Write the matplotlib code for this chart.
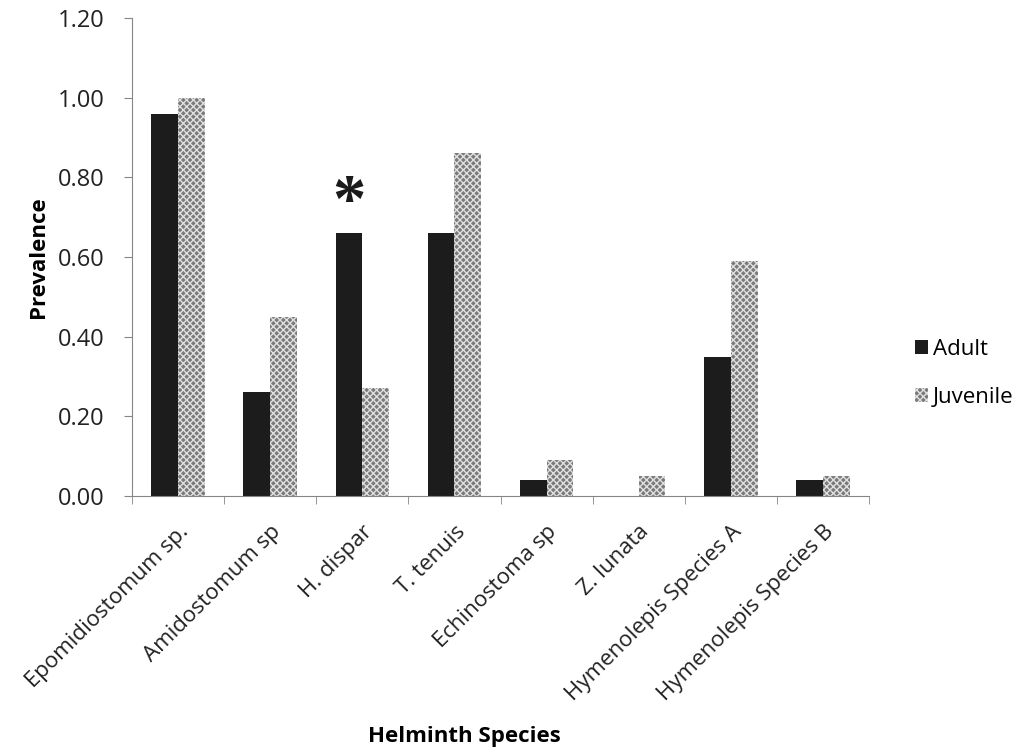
import numpy as np
import matplotlib
matplotlib.use('Agg')
import matplotlib.pyplot as plt
from matplotlib.transforms import ScaledTranslation

species = ['Epomidiostomum sp.', 'Amidostomum sp', 'H. dispar', 'T. tenuis',
           'Echinostoma sp', 'Z. lunata', 'Hymenolepis Species A', 'Hymenolepis Species B']
adult = [0.96, 0.26, 0.66, 0.66, 0.04, 0.00, 0.35, 0.04]
juvenile = [1.00, 0.45, 0.27, 0.86, 0.09, 0.05, 0.59, 0.05]
yticks = [0.0, 0.2, 0.4, 0.6, 0.8, 1.0, 1.2]

plt.rcParams['font.family'] = ['Open Sans', 'DejaVu Sans']
plt.rcParams['hatch.linewidth'] = 1.0

fig = plt.figure(figsize=(10.25, 7.54), dpi=100)
ax = fig.add_axes([0.1288, 0.3422, 0.719, 0.634])

x = np.arange(len(species))
w = 0.29
ax.bar(x - w / 2, adult, w, color='#1c1c1c', linewidth=0, label='Adult')
ax.bar(x + w / 2, juvenile, w, facecolor='#7a7a7a', edgecolor='#e0e0e0',
       hatch='xxxxx', linewidth=0, label='Juvenile')

# significance marker above H. dispar adults
ax.text(x[2] - w / 2, 0.735, '*', fontsize=48, fontweight='bold', ha='center', va='center',
        family='Liberation Serif', color='#1a1a1a')

ax.set_xlim(-0.5, len(species) - 0.5)
ax.set_ylim(0, 1.2)
ax.set_yticks(yticks)
ax.set_yticklabels([f'{v:.2f}' for v in yticks], fontsize=17, color='#222222')
ax.set_xticks(x)
ax.set_xticklabels(species, rotation=45, ha='right', rotation_mode='anchor',
                   fontsize=16, color='#222222')
shift = ScaledTranslation(-5 / 72, -3 / 72, fig.dpi_scale_trans)
for lbl in ax.get_xticklabels():
    lbl.set_transform(lbl.get_transform() + shift)
ax.set_xticks(np.arange(-0.5, len(species)), minor=True)
ax.tick_params(axis='x', which='major', length=0, pad=18)
ax.tick_params(axis='x', which='minor', length=6, color='#868686')
ax.tick_params(axis='y', length=6, color='#868686', pad=14)

for s in ['top', 'right']:
    ax.spines[s].set_visible(False)
for s in ['left', 'bottom']:
    ax.spines[s].set_color('#868686')

ax.set_ylabel('Prevalence', fontsize=16, fontweight='bold', labelpad=6)
fig.text(0.453, 0.016, 'Helminth Species', fontsize=16, fontweight='bold', ha='center')

fig.legend(loc='center left', bbox_to_anchor=(0.873, 0.505), frameon=False,
           fontsize=16, handlelength=0.6, handleheight=0.6, handletextpad=0.2,
           labelspacing=1.2)

fig.savefig('out.png', dpi=100)
